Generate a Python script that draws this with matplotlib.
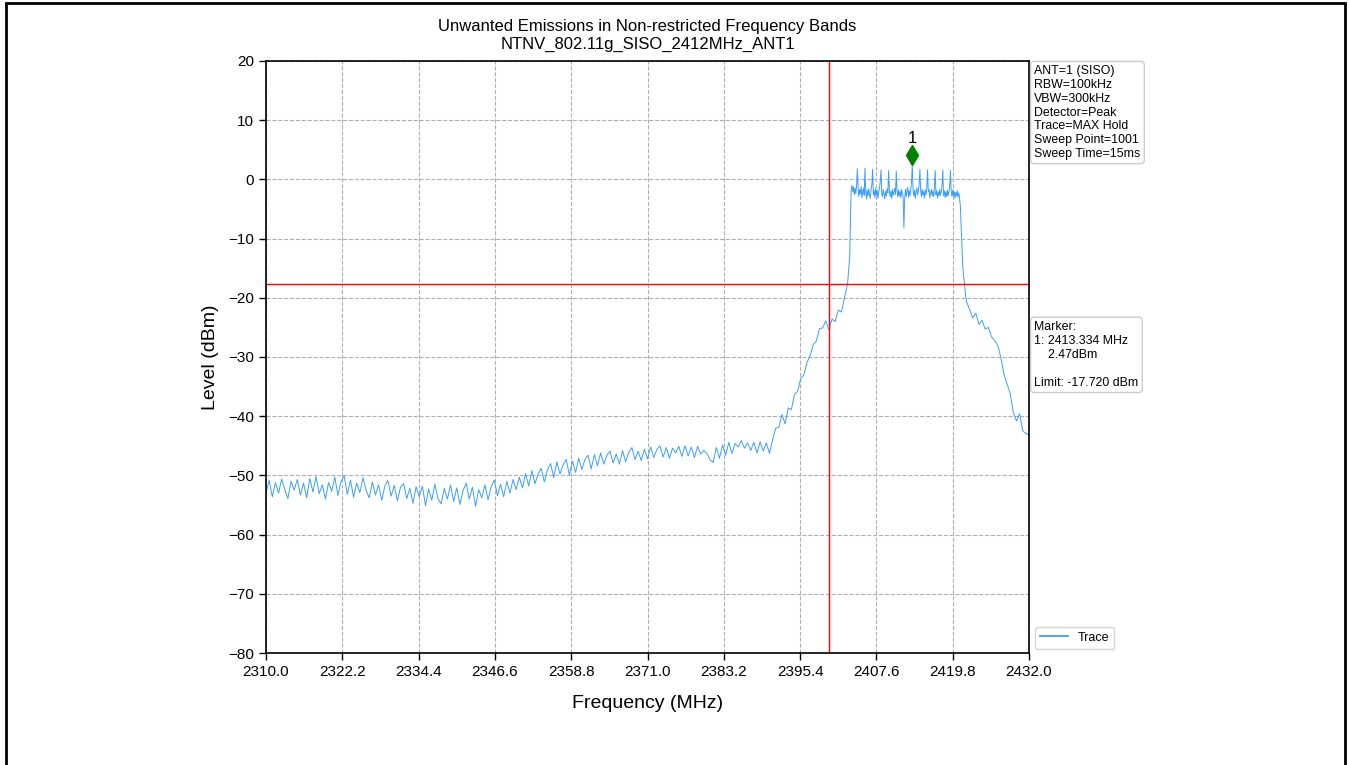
import numpy as np
import matplotlib
matplotlib.use("Agg")
import matplotlib.pyplot as plt
import matplotlib.transforms as mtransforms
from matplotlib.patches import Rectangle

plt.rcParams['font.family'] = ['Liberation Sans', 'DejaVu Sans']

# sweep settings
f_start, f_stop = 2310.0, 2432.0
sweep_step = 0.122          # (f_stop - f_start) / 1000 points
limit_dbm = -17.72
band_edge = 2400.0
marker_freq = 2413.334
marker_level = 2.47

# noise floor and lower skirt, 0.5 MHz spacing from 2310.0 to 2403.0
floor_level = [
    -52.9, -50.8, -53.6, -51.2, -53.0, -50.6, -52.4, -53.9, -51.0, -52.5,
    -50.7, -53.3, -51.3, -53.8, -50.5, -52.8, -50.2, -53.1, -51.6, -54.0,
    -51.2, -52.7, -50.3, -53.4, -51.0, -50.1, -53.2, -50.8, -53.7, -51.3,
    -52.9, -50.4, -52.5, -53.8, -51.1, -53.3, -51.6, -54.2, -51.8, -50.9,
    -53.5, -51.7, -54.3, -52.0, -51.4, -53.9, -52.2, -54.7, -51.9, -53.6,
    -51.8, -55.1, -52.3, -54.2, -51.5, -53.9, -54.8, -52.2, -54.0, -51.6,
    -54.4, -52.1, -54.9, -52.6, -51.3, -54.0, -52.0, -55.2, -52.4, -53.8,
    -51.6, -54.1, -51.9, -50.8, -53.4, -51.5, -53.6, -51.0, -53.0, -50.7,
    -52.4, -50.3, -52.1, -49.7, -51.8, -49.2, -51.4, -49.8, -48.8, -51.1,
    -49.1, -48.0, -50.4, -47.7, -49.8, -48.2, -47.3, -49.9, -47.6, -49.5,
    -47.1, -49.0, -47.3, -46.6, -48.9, -46.5, -48.4, -46.2, -48.1, -46.6,
    -45.9, -47.9, -46.4, -48.1, -45.8, -47.7, -46.1, -45.3, -47.3, -45.9,
    -47.5, -45.6, -47.2, -45.2, -47.0, -45.6, -45.0, -46.9, -45.3, -47.1,
    -45.4, -46.2, -45.1, -46.8, -45.0, -46.7, -45.2, -47.0, -45.1, -46.4,
    -45.8, -46.3, -47.4, -47.8, -45.3, -47.1, -44.9, -46.6, -44.4, -46.3,
    -44.6, -45.2, -44.1, -45.4, -44.5, -45.8, -44.4, -46.2, -44.3, -45.9,
    -44.5, -46.3, -44.0, -42.0, -41.9, -39.7, -41.3, -38.6, -38.9, -36.3,
    -35.8, -33.6, -33.0, -30.9, -29.8, -27.9, -27.3, -25.2, -25.1, -23.9,
    -25.4, -23.6, -24.0, -22.1, -22.4, -20.0, -17.5,
]

# occupied band at full sweep resolution, points 765..918
band_first_point = 765
band_level = [
    -13.0, -6.5, -1.6, -1.0, -2.1, -1.3, -2.6, -1.5, -2.4, -1.0,
    1.8, -1.4, -2.9, -1.7, -2.5, -1.2, -3.1, -2.0, -1.5, -2.7,
    1.9, -2.0, -3.3, -1.8, -2.8, -1.6, -2.6, -3.2, -1.7, -0.9,
    1.7, -2.6, -1.9, -3.1, -1.5, -2.7, -1.8, -3.2, -2.1, -1.4,
    -0.4, 1.6, -2.5, -2.9, -1.7, -2.6, -3.3, -2.0, -2.8, -1.6,
    -2.3, 1.5, -1.8, -2.9, -2.0, -3.2, -1.7, -2.7, -2.1, -1.5,
    -2.6, 1.4, -1.9, -3.0, -1.8, -2.8, -2.0, -3.1, -1.7, -2.6,
    -2.8, -8.2, -3.4, -1.7, -2.9, -2.0, -1.3, -3.0, -1.9, -2.8,
    -1.7, -0.6, 2.47, -1.6, -2.8, -1.8, -3.2, -2.1, -1.4, -2.6,
    -1.9, -0.8, 1.7, -2.0, -2.9, -1.7, -2.7, -2.0, -3.1, -1.8,
    -2.6, -1.3, 1.6, -2.1, -1.8, -3.1, -2.2, -1.7, -2.8, -2.0,
    -2.9, -1.1, 1.5, -2.6, -1.9, -3.2, -2.1, -2.8, -1.7, -2.7,
    -2.0, -0.9, 1.6, -2.7, -1.9, -3.1, -2.1, -2.9, -1.8, -2.8,
    -2.1, -1.2, 1.5, -2.0, -2.9, -1.8, -2.8, -2.1, -3.2, -2.2,
    -2.8, -1.9, -3.0, -2.3, -3.2, -4.5, -7.8, -11.5, -14.2, -16.0,
    -17.1, -18.4, -19.7, -20.6,
]

# upper skirt, 0.5 MHz spacing from 2422.5 to 2432.0
upper_start = 2422.5
upper_level = [
    -22.0, -23.4, -22.6, -24.5, -23.8, -25.3, -25.0, -26.6, -27.2, -28.0,
    -30.1, -32.9, -34.6, -36.2, -39.4, -40.8, -39.6, -42.5, -42.9, -43.2,
]

floor_freq = f_start + 0.5 * np.arange(len(floor_level))
band_freq = f_start + sweep_step * np.arange(band_first_point, band_first_point + len(band_level))
upper_freq = upper_start + 0.5 * np.arange(len(upper_level))

freq = np.concatenate([floor_freq, band_freq, upper_freq])
level = np.concatenate([floor_level, band_level, upper_level])

fig = plt.figure(figsize=(13.49, 7.65), dpi=100)
ax = fig.add_axes([0.1972, 0.1464, 0.5656, 0.7739])

ax.plot(freq, level, color='#3d9ef2', lw=0.7, label='Trace')
ax.axhline(limit_dbm, color='red', lw=1)
ax.axvline(band_edge, color='red', lw=1)

# peak marker, drawn a little above the trace point
mk_trans = mtransforms.offset_copy(ax.transData, fig=fig, y=7, units='points')
ax.plot([marker_freq], [marker_level], marker='d', ms=10, color='green', transform=mk_trans)
ax.annotate('1', (marker_freq, marker_level), xytext=(0, 19), textcoords='offset points',
            ha='center', va='center', fontsize=12)

ax.set_xlim(f_start, f_stop)
ax.set_ylim(-80, 20)
ax.set_xticks(np.linspace(f_start, f_stop, 11))
ax.set_xticklabels(['%.1f' % v for v in np.linspace(f_start, f_stop, 11)])
ax.set_yticks(np.arange(-80, 21, 10))
ax.tick_params(labelsize=11, length=5, width=1)
ax.grid(True, ls='--', color='#b0b0b0', lw=0.8)
for s in ax.spines.values():
    s.set_linewidth(1.2)

ax.set_title('Unwanted Emissions in Non-restricted Frequency Bands\nNTNV_802.11g_SISO_2412MHz_ANT1',
             fontsize=12, pad=9)
ax.set_xlabel('Frequency (MHz)', fontsize=14, labelpad=12)
ax.set_ylabel('Level (dBm)', fontsize=14, labelpad=7)

box = dict(boxstyle='round,pad=0.3', fc='white', ec='#cccccc', lw=1)
ax.text(1.007, 0.993, 'ANT=1 (SISO)\nRBW=100kHz\nVBW=300kHz\nDetector=Peak\nTrace=MAX Hold\n'
        'Sweep Point=1001\nSweep Time=15ms', transform=ax.transAxes, fontsize=8.9,
        va='top', ha='left', bbox=box, linespacing=1.2)
ax.text(1.007, 0.561, 'Marker:\n1: %.3f MHz\n    %.2fdBm\n\nLimit: %.3f dBm' % (marker_freq, marker_level, limit_dbm),
        transform=ax.transAxes, fontsize=8.9, va='top', ha='left', bbox=box, linespacing=1.22)

leg = ax.legend(loc='lower left', bbox_to_anchor=(1.0, -0.003), fontsize=9, frameon=True,
                fancybox=True, edgecolor='#cccccc', handlelength=2.2)
for h in leg.get_lines():
    h.set_linewidth(1.3)

# frame around the page
fig.patches.append(Rectangle((0.0045, -0.1), 0.9925, 1.096, transform=fig.transFigure,
                             fill=False, ec='black', lw=2))

fig.savefig('out.png', dpi=100)
